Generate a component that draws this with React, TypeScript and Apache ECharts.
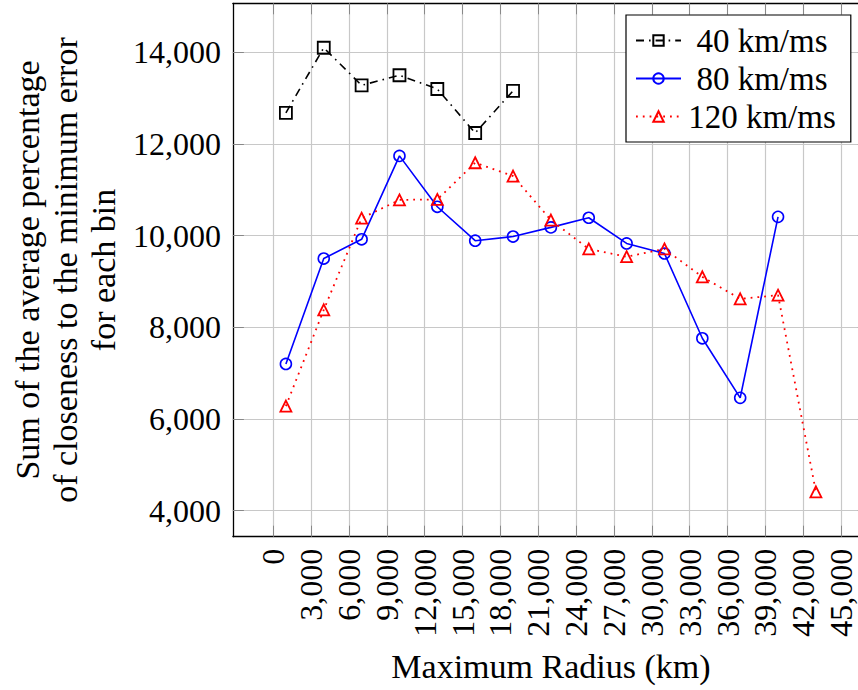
import React, { useEffect, useRef } from "react";
import * as echarts from "echarts";

const xValues40 = [1000, 4000, 7000, 10000, 13000, 16000, 19000];
const yValues40 = [12680, 14100, 13280, 13500, 13200, 12240, 13160];

const xValues80 = [1000, 4000, 7000, 10000, 13000, 16000, 19000, 22000, 25000, 28000, 31000, 34000, 37000, 40000];
const yValues80 = [7200, 9500, 9920, 11740, 10630, 9890, 9980, 10180, 10390, 9830, 9610, 7760, 6460, 10410];

const xValues120 = [1000, 4000, 7000, 10000, 13000, 16000, 19000, 22000, 25000, 28000, 31000, 34000, 37000, 40000, 43000];
const yValues120 = [6280, 8380, 10380, 10780, 10790, 11590, 11300, 10340, 9710, 9540, 9710, 9100, 8620, 8700, 4410];

const seriesNames = ["40 km/ms", "80 km/ms", "120 km/ms"];

const xTicks = [0, 3000, 6000, 9000, 12000, 15000, 18000, 21000, 24000, 27000, 30000, 33000, 36000, 39000, 42000, 45000];
const yTicks = [4000, 6000, 8000, 10000, 12000, 14000];

const xMin = -3200;
const xMax = 47200;
const yMin = 3430;
const yMax = 15070;

const FONT = "'Liberation Serif', 'Times New Roman', serif";

const fmt = (v: number) => {
  const s = String(Math.round(v));
  return s.replace(/\B(?=(\d{3})+(?!\d))/g, ",");
};

const zip = (xs: number[], ys: number[]) => xs.map((x, i) => [x, ys[i]]);

export default function App() {
  const ref = useRef<HTMLDivElement>(null);

  useEffect(() => {
    if (!ref.current) return;
    const chart = echarts.init(ref.current, undefined, { renderer: "svg" });

    const tickStyle = { show: true, inside: true, length: 11, lineStyle: { color: "#888", width: 1 } };
    const gridStyle = { show: true, lineStyle: { color: "#c8c8c8", width: 1.2 } };

    const option: any = {
      animation: false,
      backgroundColor: "#fff",
      textStyle: { fontFamily: FONT },
      grid: { left: 230.5, top: 3.3, width: 638.4, height: 533.4, containLabel: false },
      legend: {
        orient: "vertical",
        left: 626,
        top: 15,
        padding: [9, 15, 9, 9],
        backgroundColor: "#fff",
        borderColor: "#000",
        borderWidth: 1.2,
        borderRadius: 0,
        itemWidth: 45,
        itemHeight: 13,
        itemGap: 5,
        data: seriesNames,
        textStyle: {
          fontFamily: FONT,
          fontSize: 33,
          color: "#000",
          rich: { c: { width: 152, align: "center", fontFamily: FONT, fontSize: 33, color: "#000" } },
        },
        formatter: (name: string) => "{c|" + name + "}",
      },
      xAxis: [
        {
          type: "value",
          min: xMin,
          max: xMax,
          name: "Maximum Radius (km)",
          nameLocation: "middle",
          nameGap: 113,
          nameTextStyle: { fontFamily: FONT, fontSize: 34, color: "#000" },
          axisLine: { show: true, onZero: false, lineStyle: { color: "#000", width: 1.3 } },
          axisTick: { ...tickStyle, customValues: xTicks },
          axisLabel: {
            customValues: xTicks,
            rotate: 90,
            margin: 12,
            fontFamily: FONT,
            fontSize: 32,
            color: "#000",
            formatter: (v: number) => fmt(v),
          },
          splitLine: gridStyle,
        },
        {
          type: "value",
          position: "top",
          min: xMin,
          max: xMax,
          axisLine: { show: true, onZero: false, lineStyle: { color: "#000", width: 1.3 } },
          axisTick: { ...tickStyle, customValues: xTicks },
          axisLabel: { show: false, customValues: xTicks },
          splitLine: { show: false },
        },
      ],
      yAxis: [
        {
          type: "value",
          min: yMin,
          max: yMax,
          name: "Sum of the average percentage\nof closeness to the minimum error\nfor each bin",
          nameLocation: "middle",
          nameGap: 108,
          nameRotate: 90,
          nameTextStyle: { fontFamily: FONT, fontSize: 34, color: "#000", lineHeight: 38, align: "center" },
          axisLine: { show: true, onZero: false, lineStyle: { color: "#000", width: 1.3 } },
          axisTick: { ...tickStyle, customValues: yTicks },
          axisLabel: {
            customValues: yTicks,
            margin: 12,
            fontFamily: FONT,
            fontSize: 32,
            color: "#000",
            formatter: (v: number) => fmt(v),
          },
          splitLine: gridStyle,
        },
        {
          type: "value",
          position: "right",
          min: yMin,
          max: yMax,
          axisLine: { show: true, onZero: false, lineStyle: { color: "#000", width: 1.3 } },
          axisTick: { ...tickStyle, customValues: yTicks },
          axisLabel: { show: false, customValues: yTicks },
          splitLine: { show: false },
        },
      ],
      series: [
        {
          name: seriesNames[0],
          type: "line",
          data: zip(xValues40, yValues40),
          symbol: "rect",
          symbolSize: 12,
          lineStyle: { color: "#000", width: 1.6, type: [8, 5, 1.6, 5] },
          itemStyle: { color: "rgba(255,255,255,0)", borderColor: "#000", borderWidth: 1.8 },
        },
        {
          name: seriesNames[1],
          type: "line",
          data: zip(xValues80, yValues80),
          symbol: "circle",
          symbolSize: 11,
          lineStyle: { color: "#0000ff", width: 1.6, type: "solid" },
          itemStyle: { color: "rgba(255,255,255,0)", borderColor: "#0000ff", borderWidth: 1.6 },
        },
        {
          name: seriesNames[2],
          type: "line",
          data: zip(xValues120, yValues120),
          symbol: "triangle",
          symbolSize: 11,
          lineStyle: { color: "#ff0000", width: 1.8, type: [1.8, 5] },
          itemStyle: { color: "rgba(255,255,255,0)", borderColor: "#ff0000", borderWidth: 1.8 },
        },
      ],
    };

    chart.setOption(option);
    return () => chart.dispose();
  }, []);

  return (
    <div style={{ position: "fixed", left: 0, top: 0, width: 858, height: 690, overflow: "hidden", background: "#fff" }}>
      <div ref={ref} style={{ width: 880, height: 690 }} />
    </div>
  );
}
